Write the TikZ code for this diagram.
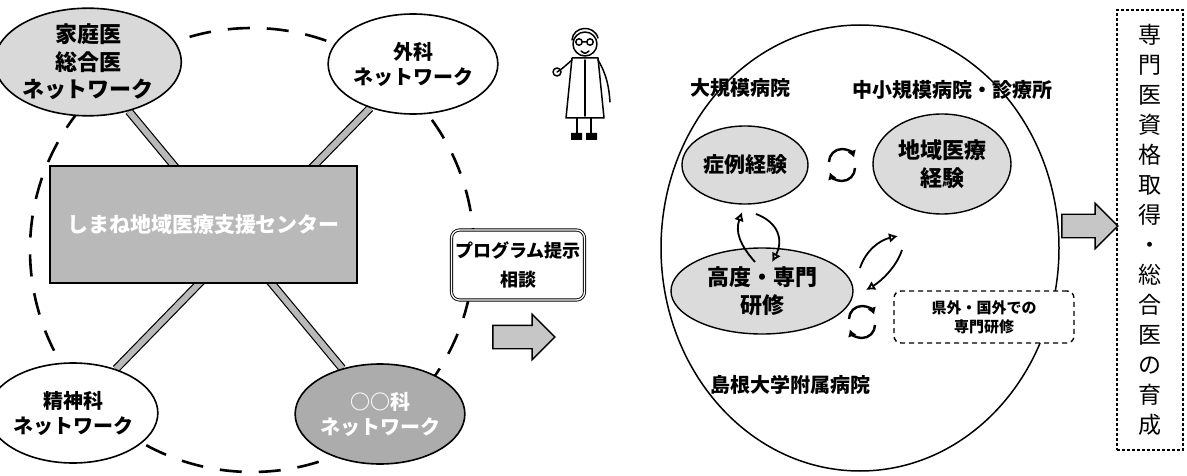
\documentclass[tikz,border=0pt]{standalone}
\usepackage{fontspec}
\setmainfont{Noto Sans CJK JP}
\usetikzlibrary{shapes.geometric,shapes.arrows,arrows.meta}
\pgfdeclarelayer{bg}
\pgfsetlayers{bg,main}

\tikzset{
  net/.style={ellipse, draw, line width=1.6pt, inner sep=0pt, align=center},
  bar/.style={line width=1.2pt, double=gray!55, double distance=6pt},
  ring/.style={draw, circle, dash pattern=on 22pt off 17pt, line width=2.6pt},
  spot/.style={ellipse, draw, line width=1.4pt, fill=gray!28, inner sep=0pt, align=center},
  blockarrow/.style={single arrow, draw, line width=1.4pt, fill=gray!45,
    inner sep=11pt, single arrow head extend=11pt},
  turn/.style={line width=2.4pt, -{Latex[length=7pt,width=9pt]}},
  swap/.pic={
    \draw[turn] (-13,-3) arc[start angle=180, end angle=340, radius=13];
    \draw[turn] (13,3) arc[start angle=0, end angle=160, radius=13];
  },
  fs/.style={font=\fontsize{#1pt}{1.25\dimexpr #1pt\relax}\selectfont\bfseries}
}

\begin{document}
\begin{tikzpicture}[x=1pt, y=-1pt, fs=18]
\useasboundingbox (0,0) rectangle (1187,476);

% ---- left: support centre and its four networks
\node[ring, minimum size=444pt] (ring) at (252,250) {};

\node[draw, line width=1.8pt, fill=gray!55, minimum width=307pt, minimum height=117pt,
      text=white, fs=21] (centre) at (203.5,224.5) {しまね地域医療支援センター};

\node[net, fill=gray!30, minimum width=160pt, minimum height=96pt, fs=22]
  (fam) at (88,62) {家庭医\\総合医\\ネットワーク};
\node[net, fill=white, minimum width=138pt, minimum height=100pt, fs=20]
  (surg) at (413,64) {外科\\ネットワーク};
\node[net, fill=white, minimum width=134pt, minimum height=100pt, fs=20]
  (psy) at (73,413) {精神科\\ネットワーク};
\node[net, fill=gray!65, text=white, minimum width=146pt, minimum height=100pt, fs=20]
  (other) at (380,414) {○○科\\ネットワーク};

\begin{pgfonlayer}{bg}
  \draw[bar] (fam) -- (other);
  \draw[bar] (surg) -- (psy);
\end{pgfonlayer}

% ---- consultation box, arrow and doctor
\node[draw, rounded corners=8pt, line width=0.9pt, double, double distance=1.3pt,
      fill=white, align=center, minimum width=133pt, minimum height=70pt, fs=18]
  (prog) at (518,265) {プログラム提示\\[7pt]相談};
\node[blockarrow, minimum height=62pt] (go1) at (518,337) {};

\begin{scope}[shift={(585,0)}, line width=1.5pt, line join=round, line cap=round]
  % head with glasses and hair
  \draw[fill=white] (0,44) circle[radius=12];
  \draw (-13,40) .. controls (-12,26) and (9,24) .. (13,38);
  \draw (-6,42) circle[radius=3.2] (5,42) circle[radius=3.2] (-3,42) -- (2,42);
  \draw (-4,51) .. controls (0,54) .. (4,51);
  % coat
  \draw[fill=white] (-13,58) -- (13,58) -- (19,118) -- (-19,118) -- cycle;
  \draw (0,60) -- (0,116);
  \foreach \yy in {70,80,90,100} \fill (0,\yy) circle[radius=1.2];
  % arms
  \draw (13,60) .. controls (22,75) and (24,88) .. (25,102);
  \draw (-13,60) .. controls (-20,66) and (-24,70) .. (-28,72);
  \draw (-28,72) circle[radius=4];
  % legs and shoes
  \draw (-8,118) -- (-8,135) (6,118) -- (6,135);
  \fill (-14,133) rectangle (-3,140) (1,133) rectangle (12,140);
\end{scope}

% ---- right: training across hospitals
\node[ellipse, draw, line width=1.5pt, minimum width=398pt, minimum height=446pt]
  (hosp) at (860,248) {};

\node[fs=20] (large) at (740,88) {大規模病院};
\node[fs=20] (small) at (952,90) {中小規模病院・診療所};
\node[spot, minimum width=126pt, minimum height=78pt, fs=21] (case) at (745,165) {症例経験};
\node[spot, minimum width=138pt, minimum height=100pt, fs=22] (local) at (942,164) {地域医療\\経験};
\node[spot, minimum width=182pt, minimum height=86pt, fs=22] (adv) at (762,291) {高度・専門\\研修};
\node[draw, dash pattern=on 5pt off 4pt, rounded corners=7pt, line width=1.4pt, fill=white,
      align=center, minimum width=180pt, minimum height=52pt, fs=15]
  (abroad) at (984,317) {県外・国外での\\専門研修};
\node[fs=20] (univ) at (790,385) {島根大学附属病院};

\pic at (842,165) {swap};
\pic at (862,322) {swap};

% exchange arrows between the ellipses
\begin{scope}[line width=1.8pt, -{Latex[open,length=9pt,width=10pt]}]
  \draw (755,262) .. controls (740,245) and (735,232) .. (742,212);
  \draw (756,214) .. controls (778,222) and (784,240) .. (772,262);
  \draw (860,268) .. controls (866,250) and (880,240) .. (898,236);
  \draw (902,250) .. controls (896,268) and (880,282) .. (866,290);
\end{scope}

% ---- outcome
\node[blockarrow, minimum height=56pt] (go2) at (1084,226) {};
\node[draw, dash pattern=on 3pt off 2pt, line width=1.2pt, minimum width=66pt,
      minimum height=440pt] (goal) at (1150,230) {};
\node[align=center, fs=23, font=\fontsize{23pt}{30pt}\selectfont, inner sep=0pt]
  (goaltext) at (goal.center)
  {専\\門\\医\\資\\格\\取\\得\\・\\総\\合\\医\\の\\育\\成};
\end{tikzpicture}
\end{document}
